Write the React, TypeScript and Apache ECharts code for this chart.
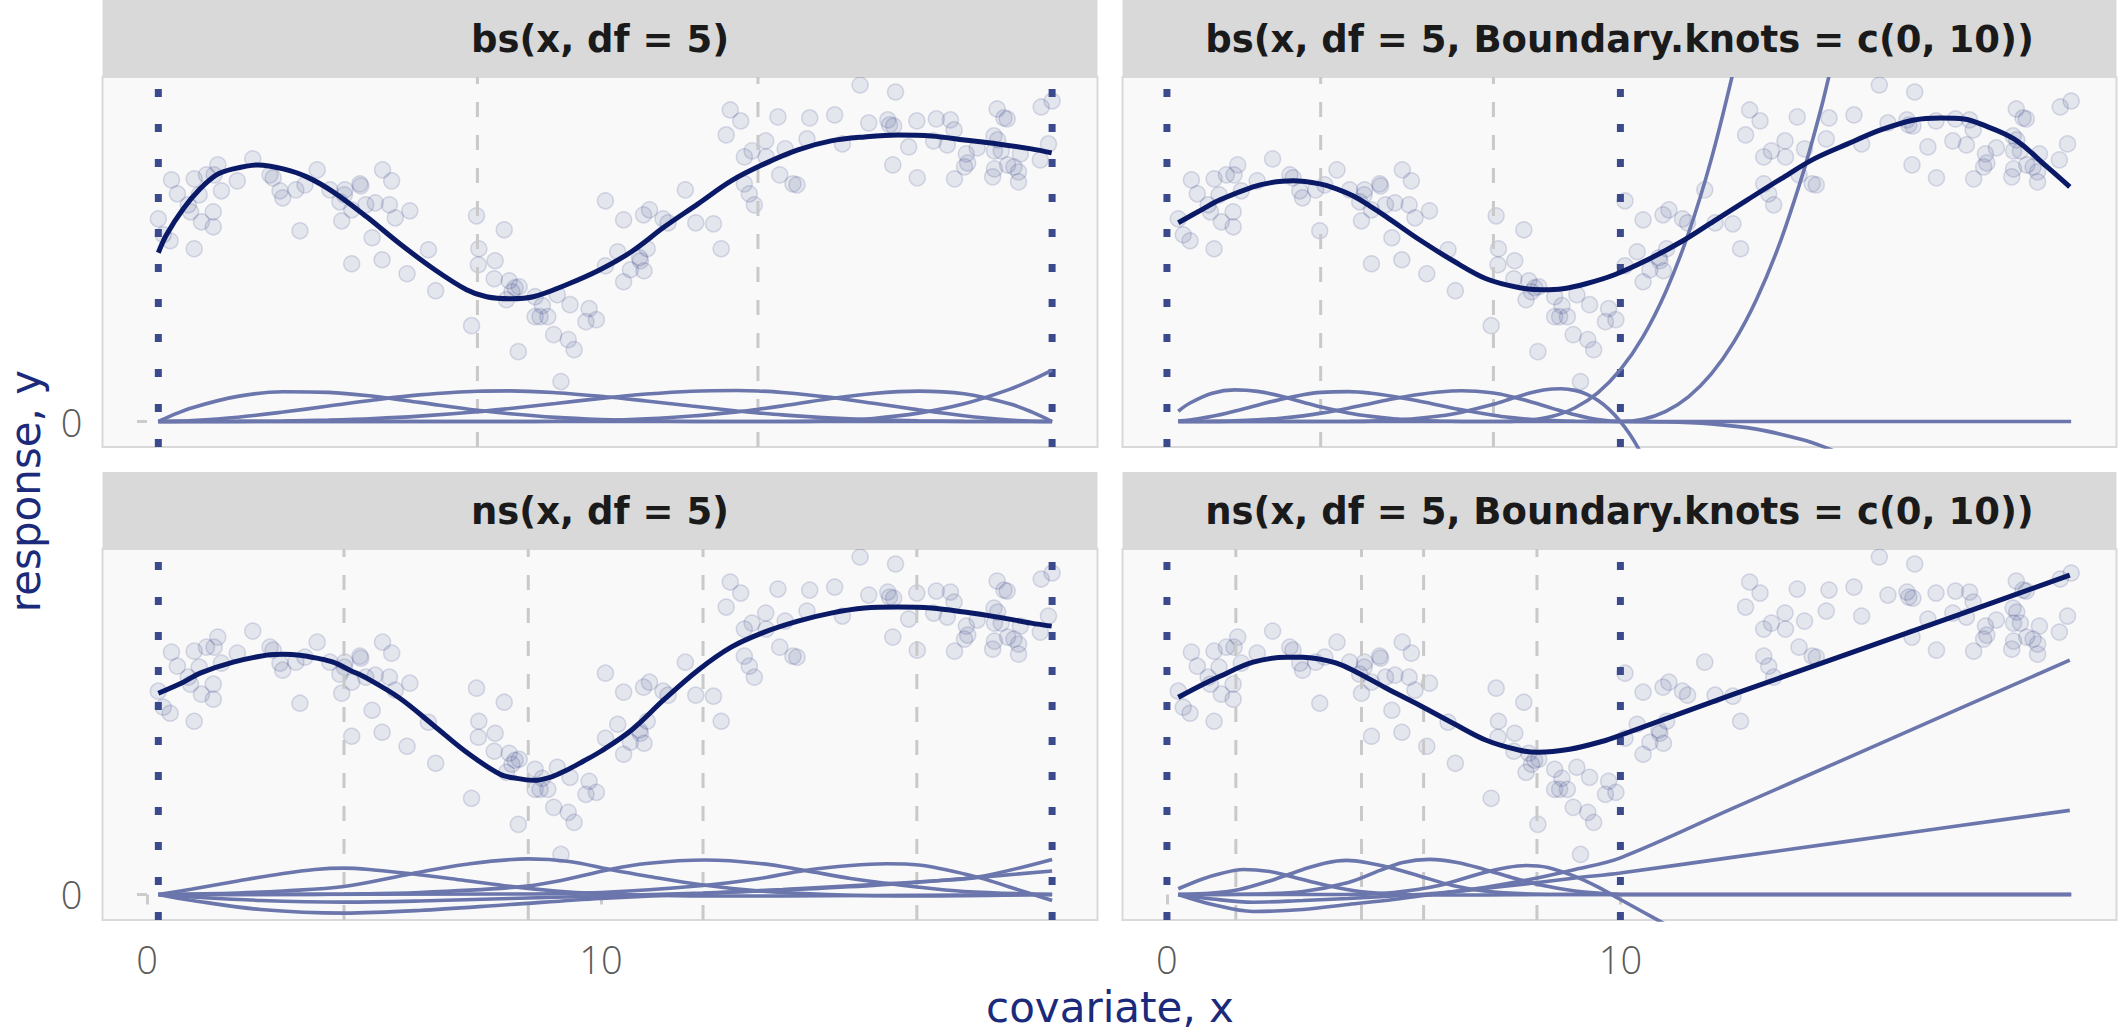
import React, { useEffect, useRef } from 'react';
import * as echarts from 'echarts';

// ---------- observed data (same points in every panel) ----------
const obsX = [
  0.25, 0.36, 0.51, 1.04, 0.54, 0.67, 1.04, 1.31, 1.48, 1.56, 1.15, 0.91, 0.96, 1.46, 1.2, 1.46, 1.64, 1.99, 2.33, 2.71,
  2.78, 2.93, 2.99, 3.28, 3.48, 3.75, 3.37, 4.03, 4.36, 4.35, 4.25, 4.29, 4.51, 4.69, 4.71, 4.82, 5.03, 5.19, 5.39, 5.34,
  5.47, 5.79, 4.96, 4.51, 5.18, 5.73, 6.2, 6.36, 7.26, 7.31, 7.3, 7.87, 7.67, 7.65, 7.98, 8.11, 8.2, 7.92, 8.04, 8.55,
  8.71, 8.55, 8.66, 8.83, 9.04, 9.32, 9.74, 9.67, 9.9, 7.15, 8.96, 9.28, 9.41, 8.18, 9.12,
  10.1, 10.1, 10.37, 10.5, 10.65, 10.5, 10.95, 10.85, 10.87, 11.02, 10.94, 11.07, 11.37, 11.48, 11.86, 12.09, 12.48, 12.65,
  12.85, 13.08, 12.76, 13.16, 13.33, 13.63, 13.64, 13.16, 13.27, 13.38, 13.9, 14.06, 13.94, 14.23, 14.32, 14.54, 14.6,
  15.15, 15.32, 15.71, 15.9, 16.32, 16.36, 16.49, 16.45, 16.43, 16.78, 16.96, 16.97, 17.33, 17.39, 17.63, 17.7, 17.78,
  17.79, 18.05, 18.08, 18.01, 18.29, 18.66, 18.73, 18.74, 18.67, 18.88, 18.95, 18.82, 18.67, 18.63, 18.96, 19.1, 19.2,
  19.2, 19.24, 19.7, 19.94, 19.86, 19.68,
];
const obsY = [
  20.3, 18.7, 18.1, 17.3, 24.2, 22.8, 24.3, 24.7, 24.7, 25.7, 22.7, 21.7, 21.0, 21.0, 20.0, 19.5, 23.1, 24.1, 26.3, 24.7,
  24.4, 23.1, 22.4, 23.2, 23.7, 25.2, 19.1, 23.2, 23.2, 22.7, 22.0, 20.1, 21.2, 23.8, 23.6, 21.7, 21.9, 25.2, 24.1, 21.7,
  20.4, 21.1, 18.4, 15.8, 16.2, 14.8, 17.2, 13.1, 20.6, 17.3, 15.7, 19.2, 16.1, 14.3, 14.1, 13.4, 13.5, 12.2, 13.0, 12.5,
  11.6, 10.5, 10.5, 10.5, 12.7, 11.7, 11.3, 10.0, 10.2, 9.6, 8.7, 8.2, 7.2, 7.0, 4.0,
  22.1, 15.6, 17.0, 20.2, 15.2, 14.0, 15.1, 16.4, 16.1, 17.3, 20.7, 21.2, 20.3, 19.9, 23.2, 19.9, 19.8, 17.3,
  31.2, 30.1, 28.7, 26.5, 27.1, 28.1, 26.5, 23.8, 22.8, 21.7, 30.5, 27.3, 24.7, 23.8, 23.7, 28.3, 30.4,
  30.7, 27.8, 33.7, 29.9, 30.2, 29.7, 33.0, 29.6, 25.7, 27.5, 30.1, 24.4, 28.1, 30.3, 27.7, 30.2, 29.2,
  24.3, 26.8, 25.9, 25.5, 27.4, 28.6, 31.3, 28.2, 27.1, 30.4, 30.3, 27.1, 25.3, 24.5, 25.7, 25.5, 25.0,
  24.0, 26.8, 31.5, 32.1, 27.8, 26.2,
];

// ---------- fitted curves ----------
const fitBs = [
  [0.25, 16.9], [0.43, 18.7], [0.8, 21.3], [1.17, 23.3], [1.53, 24.7], [1.9, 25.3], [2.45, 25.7], [3.0, 25.3], [3.52, 24.5],
  [4.1, 23.0], [4.84, 20.5], [5.57, 17.8], [6.31, 15.3], [7.04, 13.2], [7.48, 12.5], [8.0, 12.3], [8.51, 12.5], [9.24, 13.7],
  [9.98, 15.2], [10.67, 17.0], [11.4, 19.5], [12.14, 21.8], [12.87, 24.1], [13.6, 25.8], [14.34, 27.2], [15.07, 28.1],
  [15.81, 28.5], [16.54, 28.7], [17.28, 28.6], [18.01, 28.2], [18.74, 27.8], [19.48, 27.3], [19.93, 26.9],
];
const fitBsBound = [
  [0.25, 19.9], [0.8, 21.3], [1.17, 22.2], [1.9, 23.5], [2.27, 23.9], [2.78, 24.1], [3.37, 23.8], [3.74, 23.3], [4.1, 22.6],
  [4.47, 21.6], [4.84, 20.5], [5.57, 18.2], [6.31, 16.1], [7.04, 14.3], [7.78, 13.4], [8.29, 13.2], [8.73, 13.3], [9.24, 13.8],
  [9.87, 14.7], [10.6, 16.2], [11.34, 18.0], [12.07, 20.1], [12.8, 22.2], [13.54, 24.3], [14.27, 26.3], [15.01, 27.8],
  [15.74, 29.2], [16.48, 30.2], [17.06, 30.4], [17.58, 30.3], [17.94, 29.8], [18.68, 28.3], [19.41, 25.5], [19.91, 23.5],
];
const fitNs = [
  [0.25, 20.1], [0.8, 21.2], [1.17, 22.1], [1.9, 23.2], [2.64, 23.9], [3.0, 24.0], [3.37, 23.9], [3.74, 23.6], [4.1, 23.2],
  [4.47, 22.4], [4.84, 21.6], [5.57, 19.6], [6.31, 16.9], [7.04, 14.2], [7.78, 12.0], [8.14, 11.6], [8.51, 11.4], [8.88, 11.7],
  [9.24, 12.4], [9.61, 13.3], [10.0, 14.3], [10.67, 16.4], [11.4, 19.5], [12.14, 22.4], [12.87, 24.7], [13.6, 26.2],
  [14.34, 27.3], [15.07, 28.1], [15.81, 28.6], [16.54, 28.7], [17.28, 28.6], [18.01, 28.2], [18.74, 27.7], [19.48, 27.1], [19.93, 26.8],
];
const fitNsBound = [
  [0.25, 19.7], [0.8, 21.0], [1.17, 21.8], [1.9, 23.2], [2.64, 23.7], [3.0, 23.7], [3.37, 23.5], [3.74, 23.1], [4.1, 22.4],
  [4.84, 20.6], [5.57, 18.9], [6.31, 17.1], [7.04, 15.4], [7.78, 14.4], [8.18, 14.2], [8.88, 14.5], [9.61, 15.3], [10.0, 15.9],
  [12.5, 20.0], [15.0, 24.0], [17.5, 28.0], [19.91, 31.9],
];

// ---------- basis functions (scaled for display) ----------
const bsBasis = [
  [[0.25, 0], [0.5, 0.52], [1, 1.39], [2, 2.52], [3, 2.98], [4, 2.92], [5, 2.52], [6, 1.92], [7.28, 1.13], [8, 0.78], [9, 0.42], [10, 0.2], [11, 0.07], [12, 0.01], [13.46, 0], [16, 0], [19.94, 0]],
  [[0.25, 0], [0.5, 0.01], [1, 0.09], [2, 0.43], [3, 0.95], [4, 1.55], [5, 2.16], [6, 2.67], [7.28, 3.04], [8, 3.07], [9, 2.89], [10, 2.53], [11, 2.06], [12, 1.55], [13, 1.06], [13.46, 0.87], [14, 0.67], [15, 0.38], [16, 0.19], [17, 0.08], [18, 0.02], [19, 0.003], [19.94, 0]],
  [[0.25, 0], [1, 0], [2, 0.015], [3, 0.06], [4, 0.15], [5, 0.3], [6, 0.54], [7.28, 0.98], [8, 1.31], [9, 1.81], [10, 2.32], [11, 2.75], [12, 3.04], [13, 3.11], [13.46, 3.06], [14, 2.91], [15, 2.45], [16, 1.83], [17, 1.17], [18, 0.58], [19, 0.15], [19.5, 0.035], [19.94, 0]],
  [[0.25, 0], [4, 0], [7.28, 0], [8, 0.002], [9, 0.03], [10, 0.1], [11, 0.27], [12, 0.55], [13, 0.97], [13.46, 1.23], [14, 1.57], [15, 2.25], [16, 2.81], [17, 3.05], [18, 2.78], [19, 1.78], [19.5, 0.94], [19.94, 0]],
  [[0.25, 0], [7, 0], [13.46, 0], [14, 0.003], [15, 0.07], [16, 0.31], [17, 0.84], [18, 1.77], [19, 3.22], [19.5, 4.17], [19.94, 5.15]],
];
const bsBoundBasis = [
  [[0.25, 1.03], [0.5, 1.83], [1, 2.83], [1.5, 3.17], [2, 3.02], [2.5, 2.56], [3, 1.94], [3.4, 1.45], [4, 0.86], [4.5, 0.52], [5, 0.28], [5.5, 0.13], [6, 0.05], [6.5, 0.01], [7.2, 0], [10, 0], [15, 0], [19.94, 0]],
  [[0.25, 0.04], [0.5, 0.15], [1, 0.52], [1.5, 1.05], [2, 1.64], [2.5, 2.21], [3, 2.68], [3.4, 2.92], [4, 2.99], [4.5, 2.83], [5, 2.51], [5.5, 2.1], [6, 1.64], [6.5, 1.17], [7.2, 0.62], [7.6, 0.39], [8, 0.23], [8.5, 0.1], [9, 0.03], [10, 0], [11, -0.03], [12, -0.23], [13, -0.76], [14, -1.8], [14.5, -2.56], [15, -3.52]],
  [[0.25, 0], [0.5, 0.003], [1, 0.02], [1.5, 0.07], [2, 0.17], [2.5, 0.33], [3, 0.57], [3.4, 0.84], [4, 1.34], [4.5, 1.81], [5, 2.28], [5.5, 2.68], [6, 2.96], [6.5, 3.08], [7.2, 2.86], [7.6, 2.49], [8, 2.01], [8.5, 1.32], [9, 0.67], [9.5, 0.19], [10, 0], [10.5, 0.23], [11, 1.02], [11.5, 2.48], [12, 4.75], [12.5, 7.95], [13, 12.22], [13.5, 17.68], [14, 24.47], [14.25, 28.4], [14.5, 32.7], [15, 42.5]],
  [[0.25, 0], [3.4, 0], [4, 0.01], [4.5, 0.04], [5, 0.13], [5.5, 0.29], [6, 0.55], [6.5, 0.94], [7.2, 1.72], [7.6, 2.3], [8, 2.85], [8.3, 3.15], [8.5, 3.26], [8.7, 3.29], [9, 3.12], [9.25, 2.75], [9.5, 2.12], [9.75, 1.22], [10, 0], [10.2, -1.23], [10.4, -2.71], [10.6, -4.45]],
  [[0.25, 0], [7.2, 0], [7.6, 0.02], [8, 0.12], [8.5, 0.52], [9, 1.38], [9.5, 2.88], [10, 5.2], [10.5, 8.51], [11, 13.0], [11.5, 18.83], [12, 26.2], [12.5, 35.27]],
];
const nsBasis = [
  [[0.25, 0], [1, 0.55], [2, 1.35], [3, 2.1], [3.7, 2.5], [4.34, 2.63], [5, 2.45], [5.83, 2.07], [7, 1.4], [8.14, 0.73], [9, 0.35], [10, 0.08], [11, -0.08], [12.25, -0.15], [14, -0.15], [16, -0.1], [18, -0.05], [19.94, 0]],
  [[0.25, 0], [2, 0.15], [3, 0.35], [4.34, 0.8], [5.83, 2.07], [7, 3.0], [8.4, 3.55], [9.3, 3.3], [10.2, 2.5], [11, 1.85], [12.25, 0.95], [13.5, 0.35], [15, 0], [17, -0.15], [19.94, 0]],
  [[0.25, 0], [3, 0], [4.34, 0.05], [6, 0.2], [8.14, 0.73], [9, 1.3], [10.2, 2.5], [11, 3.1], [12.3, 3.44], [13.5, 3.1], [14.49, 2.4], [15.5, 1.6], [16.96, 0.75], [18, 0.3], [19.94, 0]],
  [[0.25, 0], [8, 0.05], [10, 0.2], [12.25, 0.9], [13.5, 1.6], [14.49, 2.4], [15.5, 2.9], [16.3, 3.07], [17, 2.95], [18.3, 1.73], [19, 0.75], [19.94, -0.6]],
  [[0.25, 0], [1, -0.6], [2.5, -1.5], [4.34, -1.86], [6, -1.6], [8, -1.0], [10, -0.4], [12.25, 0.1], [14, 0.5], [16, 1.0], [17.3, 1.35], [18.3, 1.73], [19.94, 3.5]],
  [[0.25, 0], [1, -0.25], [2.5, -0.6], [4.34, -0.76], [6, -0.65], [8, -0.4], [10, -0.15], [12.25, 0.15], [14, 0.45], [16, 0.9], [18, 1.6], [19.94, 2.34]],
];
const nsBoundBasis = [
  [[0.25, 0.57], [0.8, 1.57], [1.17, 2.07], [1.68, 2.5], [2.27, 2.3], [2.64, 1.9], [3.37, 1.07], [4.1, 0.4], [4.84, 0.07], [5.57, -0.05], [7, -0.05], [8.5, 0], [10, 0], [19.94, 0]],
  [[0.25, 0], [1, 0.15], [1.6, 0.5], [2.3, 1.4], [3, 2.5], [3.5, 3.15], [3.96, 3.4], [4.5, 3.1], [5, 2.6], [5.6, 1.8], [6.3, 0.9], [7, 0.35], [8, 0.05], [9, 0], [10, 0], [19.94, 0]],
  [[0.25, 0], [2, 0.05], [3, 0.3], [4, 1.2], [4.7, 2.4], [5.2, 3.2], [5.79, 3.5], [6.4, 3.2], [7, 2.5], [7.6, 1.7], [8.3, 0.9], [9, 0.35], [9.6, 0.1], [10, 0], [19.94, 0]],
  [[0.25, 0], [4, 0], [5, 0.2], [6, 0.9], [7, 2.2], [7.5, 2.7], [7.92, 2.9], [8.4, 2.7], [9, 1.8], [9.5, 0.75], [10, -0.5], [10.5, -1.75], [11, -3.0]],
  [[0.25, 0], [1, -1.0], [1.9, -1.7], [3, -1.5], [4, -1.0], [5, -0.5], [6, 0.1], [7, 0.7], [8, 1.5], [9, 2.5], [10, 3.66], [12.5, 8.64], [15, 13.62], [17.5, 18.6], [19.91, 23.4]],
  [[0.25, 0], [1, -0.45], [1.9, -0.77], [3, -0.6], [4, -0.4], [5, -0.15], [6, 0.15], [7, 0.6], [8, 1.1], [9, 1.65], [10, 2.15], [12.5, 3.73], [15, 5.3], [17.5, 6.88], [19.91, 8.4]],
];

// ---------- knots ----------
const boundaryDefault = [0.25, 19.94];
const boundaryFixed = [0, 10];
const knotsBs = [7.28, 13.46];
const knotsBsBound = [3.39, 7.2];
const knotsNs = [4.34, 8.4, 12.25, 16.96];
const knotsNsBound = [1.52, 4.29, 5.66, 8.16];

const titles = [
  'bs(x, df = 5)',
  'bs(x, df = 5, Boundary.knots = c(0, 10))',
  'ns(x, df = 5)',
  'ns(x, df = 5, Boundary.knots = c(0, 10))',
];
const xTicks = [0, 10];
const yTicks = [0];

const X_MIN = -0.98, X_MAX = 20.94, Y_MIN = -2.55, Y_MAX = 34.5;

const panels = [
  { fit: fitBs, basis: bsBasis, boundary: boundaryDefault, knots: knotsBs },
  { fit: fitBsBound, basis: bsBoundBasis, boundary: boundaryFixed, knots: knotsBsBound },
  { fit: fitNs, basis: nsBasis, boundary: boundaryDefault, knots: knotsNs },
  { fit: fitNsBound, basis: nsBoundBasis, boundary: boundaryFixed, knots: knotsNsBound },
];

const GRIDS = [
  { left: 102.5, top: 77, width: 995, height: 370 },
  { left: 1122.5, top: 77, width: 994, height: 370 },
  { left: 102.5, top: 549, width: 995, height: 371 },
  { left: 1122.5, top: 549, width: 994, height: 371 },
];
const STRIP_H = 77;

const NAVY = '#0b1a66';
const BASIS = '#6b76ac';
const BOUND = '#3b4a8c';
const TICK_FONT = '"Open Sans", "Noto Sans", sans-serif';

function buildOption() {
  const points = obsX.map((x, i) => [x, obsY[i]]);
  const series: any[] = [];
  panels.forEach((p, i) => {
    const ax = { xAxisIndex: i, yAxisIndex: i };
    series.push({
      type: 'scatter', ...ax, data: points, symbol: 'circle', symbolSize: 16, z: 2, silent: true,
      itemStyle: { color: 'rgba(35,50,125,0.12)', borderColor: 'rgba(35,50,125,0.2)', borderWidth: 1.5 },
    });
    p.knots.forEach((k) => {
      series.push({
        type: 'line', ...ax, data: [[k, Y_MIN], [k, Y_MAX]], showSymbol: false, silent: true, z: 3,
        lineStyle: { color: '#c9c9c9', width: 3, type: [15, 18] },
      });
    });
    p.boundary.forEach((k) => {
      series.push({
        type: 'line', ...ax, data: [[k, Y_MIN], [k, Y_MAX]], showSymbol: false, silent: true, z: 3,
        lineStyle: { color: BOUND, width: 7, type: [8, 27] },
      });
    });
    p.basis.forEach((b) => {
      series.push({
        type: 'line', ...ax, data: b, showSymbol: false, smooth: 0.35, silent: true, z: 4,
        lineStyle: { color: BASIS, width: 3.6 },
      });
    });
    series.push({
      type: 'line', ...ax, data: p.fit, showSymbol: false, smooth: 0.35, silent: true, z: 5,
      lineStyle: { color: NAVY, width: 5 },
    });
  });

  const grid = GRIDS.map((g) => ({
    ...g, show: true, backgroundColor: '#f9f9f9', borderColor: '#d9d9d9', borderWidth: 2, containLabel: false,
  }));

  const xAxis = GRIDS.map((g, i) => ({
    type: 'value', gridIndex: i, min: X_MIN, max: X_MAX,
    axisLine: { show: false }, splitLine: { show: false },
    axisTick: { show: i >= 2, customValues: xTicks, length: 10, lineStyle: { color: '#cccccc', width: 3 } },
    axisLabel: {
      show: i >= 2, customValues: xTicks, margin: 20, fontSize: 38, lineHeight: 38, color: '#5a5a5a',
      fontFamily: TICK_FONT, fontWeight: 300,
    },
  }));
  const yAxis = GRIDS.map((g, i) => ({
    type: 'value', gridIndex: i, min: Y_MIN, max: Y_MAX,
    axisLine: { show: false }, splitLine: { show: false },
    axisTick: { show: i % 2 === 0, customValues: yTicks, length: 10, lineStyle: { color: '#cccccc', width: 3 } },
    axisLabel: {
      show: i % 2 === 0, customValues: yTicks, margin: 20, fontSize: 38, lineHeight: 38, color: '#5a5a5a',
      fontFamily: TICK_FONT, fontWeight: 300,
    },
  }));

  const graphic: any[] = [];
  GRIDS.forEach((g, i) => {
    graphic.push({
      type: 'rect', silent: true, z: 10,
      shape: { x: g.left, y: g.top - STRIP_H, width: g.width, height: STRIP_H },
      style: { fill: '#d9d9d9' },
    });
    graphic.push({
      type: 'text', silent: true, z: 11,
      x: g.left + g.width / 2, y: g.top - STRIP_H / 2 + 1,
      style: {
        text: titles[i], fill: '#1a1a1a', font: 'bold 37px "DejaVu Sans", sans-serif',
        align: 'center', verticalAlign: 'middle', textAlign: 'center', textVerticalAlign: 'middle',
      },
    });
  });
  graphic.push({
    type: 'text', silent: true, x: 1110, y: 1007,
    style: {
      text: 'covariate, x', fill: '#1b2a7a', font: '42px "DejaVu Sans", sans-serif', lineHeight: 42,
      align: 'center', verticalAlign: 'middle', textAlign: 'center', textVerticalAlign: 'middle',
    },
  });
  graphic.push({
    type: 'text', silent: true, x: 25, y: 491, rotation: Math.PI / 2,
    style: {
      text: 'response, y', fill: '#1b2a7a', font: '42px "DejaVu Sans", sans-serif', lineHeight: 42,
      align: 'center', verticalAlign: 'middle', textAlign: 'center', textVerticalAlign: 'middle',
    },
  });

  return { animation: false, backgroundColor: '#ffffff', grid, xAxis, yAxis, series, graphic };
}

export default function App() {
  const ref = useRef<HTMLDivElement>(null);
  useEffect(() => {
    if (!ref.current) return;
    const chart = echarts.init(ref.current, undefined, { renderer: 'svg' });
    chart.setOption(buildOption() as any);
    return () => chart.dispose();
  }, []);
  return <div ref={ref} style={{ position: 'absolute', left: 0, top: 0, width: 2118, height: 1032 }} />;
}
